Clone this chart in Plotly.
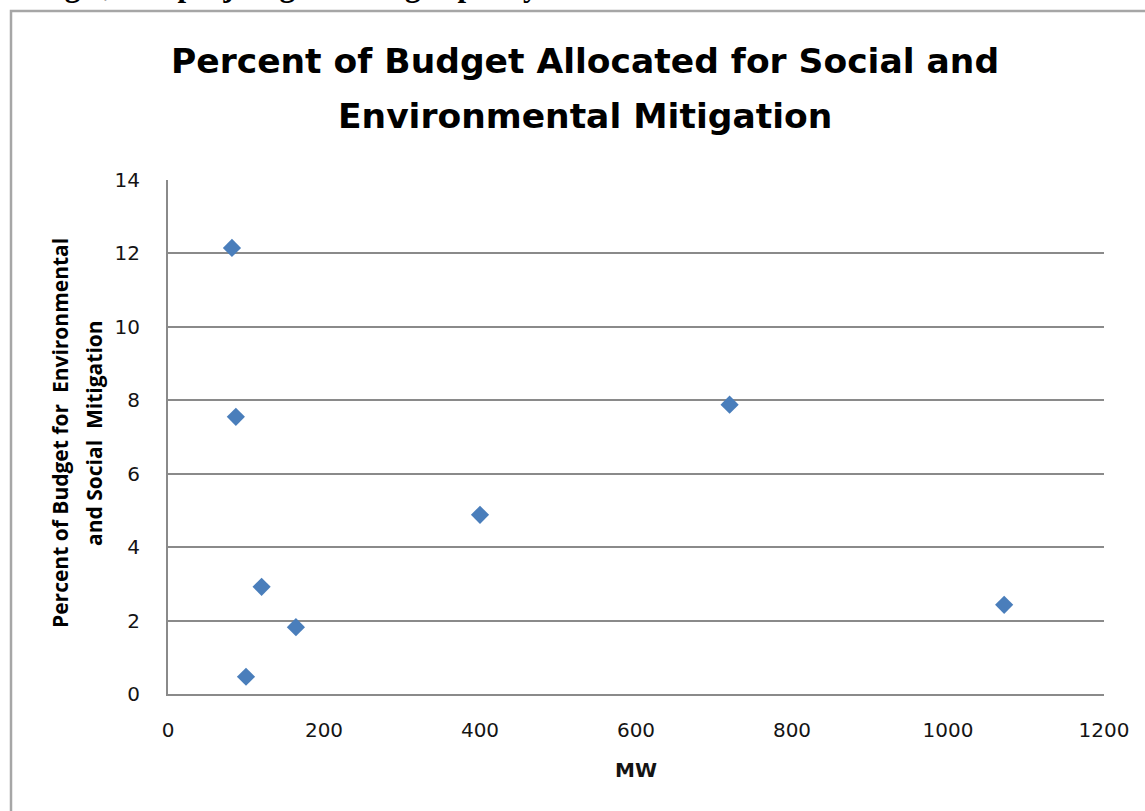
import plotly.graph_objects as go

# Project generating capacity (MW) and share of budget for mitigation (%)
mw = [82, 87, 120, 164, 100, 400, 720, 1072]
pct = [12.15, 7.55, 2.92, 1.82, 0.47, 4.88, 7.88, 2.43]

x_ticks = [0, 200, 400, 600, 800, 1000, 1200]
y_ticks = [0, 2, 4, 6, 8, 10, 12, 14]

title_lines = ["Percent of Budget Allocated for Social and", "Environmental Mitigation"]
ytitle_lines = ["Percent of Budget for  Environmental", "and Social  Mitigation"]

W, H = 1145, 811
L, R, T, B = 168, 41, 180, 117
PW, PH = W - L - R, H - T - B


def px_x(p):
    return (p - L) / PW


def px_y(p):
    return (H - B - p) / PH


grid = "#8a8a8a"
tick_font = dict(family="DejaVu Sans", size=20, color="#141414")

fig = go.Figure(
    go.Scatter(
        x=mw,
        y=pct,
        mode="markers",
        marker=dict(symbol="diamond", size=14, color="#4a7ebb", line=dict(width=0)),
        showlegend=False,
    )
)

fig.update_layout(
    width=W,
    height=H,
    margin=dict(l=L, r=R, t=T, b=B),
    paper_bgcolor="white",
    plot_bgcolor="white",
    xaxis=dict(
        range=[0, 1200],
        tickvals=x_ticks,
        showgrid=False,
        zeroline=False,
        showline=True,
        linecolor=grid,
        linewidth=2,
        ticks="",
        tickfont=tick_font,
        ticklabelstandoff=17,
    ),
    yaxis=dict(
        range=[0, 14],
        tickvals=y_ticks,
        showgrid=True,
        gridcolor=grid,
        gridwidth=1.6,
        zeroline=False,
        showline=True,
        linecolor=grid,
        linewidth=2,
        ticks="",
        tickfont=tick_font,
        ticklabelstandoff=22,
    ),
)

annotations = [
    # wrapped caption line from the surrounding document
    dict(
        text="<b>budget, and project generating capacity</b>",
        x=px_x(11), y=px_y(4.5), xref="paper", yref="paper",
        xanchor="left", yanchor="bottom", showarrow=False,
        font=dict(family="Liberation Serif", size=31, color="black"),
    ),
    dict(
        text="<b>MW</b>",
        x=0.5, y=px_y(770), xref="paper", yref="paper",
        xanchor="center", yanchor="middle", showarrow=False,
        font=dict(family="DejaVu Sans", size=20, color="#141414"),
    ),
]

# two-line chart title, each line placed on its own baseline
for line, cy in zip(title_lines, [61, 116]):
    annotations.append(dict(
        text="<b>%s</b>" % line,
        x=px_x(585), y=px_y(cy), xref="paper", yref="paper",
        xanchor="center", yanchor="middle", showarrow=False,
        font=dict(family="DejaVu Sans", size=34.5, color="black"),
    ))

# rotated y-axis title lines
for line, cx in zip(ytitle_lines, [60, 94]):
    annotations.append(dict(
        text="<b>%s</b>" % line,
        x=px_x(cx), y=px_y(433), xref="paper", yref="paper",
        xanchor="center", yanchor="middle", showarrow=False, textangle=-90,
        font=dict(family="Open Sans", size=21, color="black"),
    ))

fig.update_layout(annotations=annotations)

# chart-area border
fig.add_shape(
    type="rect", xref="paper", yref="paper",
    x0=px_x(11), y0=px_y(11), x1=px_x(1170), y1=px_y(840),
    line=dict(color="#a6a6a6", width=2.5), fillcolor="rgba(0,0,0,0)",
    layer="below",
)

fig.write_html("out.html")
